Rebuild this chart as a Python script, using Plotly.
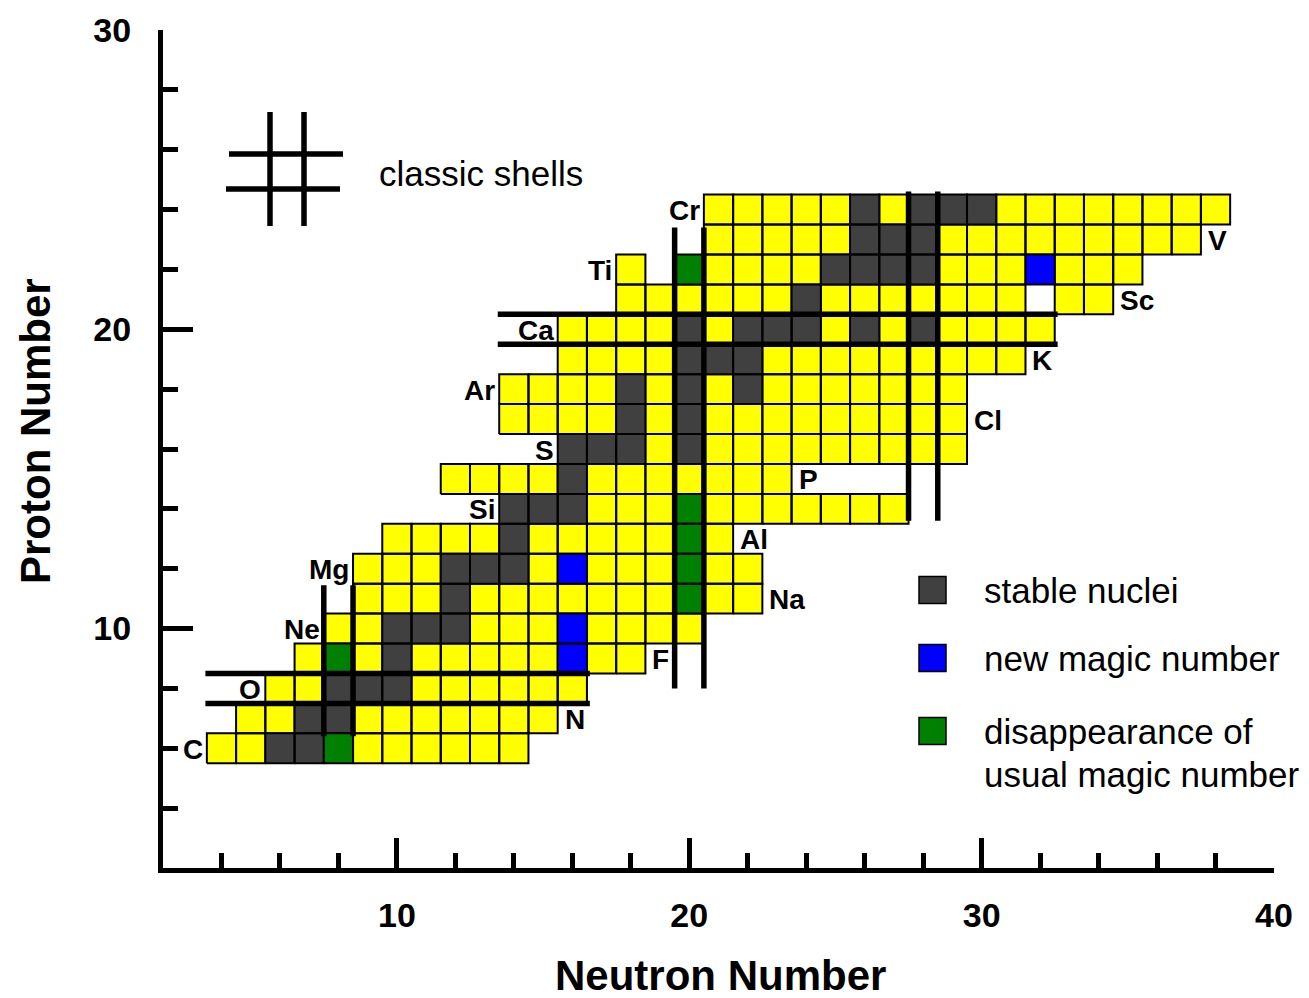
import plotly.graph_objects as go

# Chart rows: proton number, element symbol, first and last neutron number shown
proton_numbers = [6, 7, 8, 9, 10, 11, 12, 13, 14, 15, 16, 17, 18, 19, 20, 21, 22, 23, 24]
element_symbols = ["C", "N", "O", "F", "Ne", "Na", "Mg", "Al", "Si", "P",
                   "S", "Cl", "Ar", "K", "Ca", "Sc", "Ti", "V", "Cr"]
neutron_first = [4, 5, 6, 7, 8, 9, 9, 10, 14, 12, 16, 14, 14, 16, 16, 18, 18, 21, 21]
neutron_last = [14, 15, 16, 18, 20, 22, 22, 21, 27, 23, 29, 29, 29, 31, 32, 34, 35, 37, 38]

# (Z, N) of stable nuclei
stable_nuclei = [
    (6, 6), (6, 7), (7, 7), (7, 8), (8, 8), (8, 9), (8, 10), (9, 10),
    (10, 10), (10, 11), (10, 12), (11, 12), (12, 12), (12, 13), (12, 14),
    (13, 14), (14, 14), (14, 15), (14, 16), (15, 16),
    (16, 16), (16, 17), (16, 18), (16, 20), (17, 18), (17, 20),
    (18, 18), (18, 20), (18, 22), (19, 20), (19, 21), (19, 22),
    (20, 20), (20, 22), (20, 23), (20, 24), (20, 26), (20, 28),
    (21, 24), (22, 25), (22, 26), (22, 27), (22, 28),
    (23, 26), (23, 27), (23, 28), (24, 26), (24, 28), (24, 29), (24, 30),
]
# (Z, N) where a new magic number appears
new_magic = [(9, 16), (10, 16), (12, 16), (22, 32)]
# (Z, N) where a usual magic number disappears
lost_magic = [(6, 8), (9, 8), (11, 20), (12, 20), (13, 20), (14, 20), (22, 20)]
# (Z, N) left blank inside a row
blank_cells = [(21, 32), (22, 19)]

# Classic shell closures, drawn as pairs of lines around the magic row/column
magic_neutron = [8, 20, 28]
magic_neutron_zspan = [(6.4, 11.45), (8.0, 23.4), (13.6, 24.6)]
magic_proton = [8, 20]
magic_proton_nspan = [(3.45, 16.6), (13.45, 32.6)]

FONT = "Liberation Sans, Arial, sans-serif"
YELLOW, GRAY, BLUE, GREEN = "#ffff00", "#404040", "#0000ff", "#008000"

# Split every cell into its colour group
groups = {YELLOW: [], GRAY: [], BLUE: [], GREEN: []}
for z, n0, n1 in zip(proton_numbers, neutron_first, neutron_last):
    for n in range(n0, n1 + 1):
        c = (z, n)
        if c in blank_cells:
            continue
        if c in stable_nuclei:
            groups[GRAY].append(c)
        elif c in new_magic:
            groups[BLUE].append(c)
        elif c in lost_magic:
            groups[GREEN].append(c)
        else:
            groups[YELLOW].append(c)


def square_paths(cells):
    xs, ys = [], []
    for z, n in cells:
        xs += [n - 0.5, n + 0.5, n + 0.5, n - 0.5, n - 0.5, None]
        ys += [z - 0.5, z - 0.5, z + 0.5, z + 0.5, z - 0.5, None]
    return xs, ys


fig = go.Figure()
for color, cells in groups.items():
    xs, ys = square_paths(cells)
    fig.add_trace(go.Scatter(
        x=xs, y=ys, mode="lines", fill="toself", fillcolor=color,
        line=dict(color="black", width=2), hoverinfo="skip", showlegend=False))

# Shell-closure lines
for n, (z0, z1) in zip(magic_neutron, magic_neutron_zspan):
    for off in (-0.5, 0.5):
        fig.add_trace(go.Scatter(x=[n + off, n + off], y=[z0, z1], mode="lines",
                                 line=dict(color="black", width=5.5),
                                 hoverinfo="skip", showlegend=False))
for z, (n0, n1) in zip(magic_proton, magic_proton_nspan):
    for off in (-0.5, 0.5):
        fig.add_trace(go.Scatter(x=[n0, n1], y=[z + off, z + off], mode="lines",
                                 line=dict(color="black", width=5.5),
                                 hoverinfo="skip", showlegend=False))

annotations = []
# Element symbols: even Z on the left of the row, odd Z on the right
for z, sym, n0, n1 in zip(proton_numbers, element_symbols, neutron_first, neutron_last):
    if z % 2 == 0:
        annotations.append(dict(x=n0 - 0.5, y=z, text=sym, xanchor="right", xshift=-2,
                                yshift=-1, showarrow=False))
    else:
        annotations.append(dict(x=n1 + 0.5, y=z, text=sym, xanchor="left", xshift=5,
                                yshift=-1, showarrow=False))
for a in annotations:
    a.update(xref="x", yref="y", yanchor="middle",
             font=dict(family=FONT, size=28, color="black", weight="bold"))

# Plot area in pixels: x 163..1274, y 30..868
def px(x):
    return (x - 163) / 1111


def py(y):
    return (868 - y) / 838


shapes = []
# Key for the shell lines
for x in (270, 304):
    shapes.append(dict(type="line", xref="paper", yref="paper", x0=px(x), x1=px(x),
                       y0=py(112), y1=py(226), line=dict(color="black", width=5.5)))
shapes.append(dict(type="line", xref="paper", yref="paper", x0=px(229), x1=px(343),
                   y0=py(154), y1=py(154), line=dict(color="black", width=5.5)))
shapes.append(dict(type="line", xref="paper", yref="paper", x0=px(226), x1=px(340),
                   y0=py(189), y1=py(189), line=dict(color="black", width=5.5)))
# Key squares
for color, yc in ((GRAY, 590), (BLUE, 658), (GREEN, 731)):
    shapes.append(dict(type="rect", xref="paper", yref="paper", x0=px(919), x1=px(946),
                       y0=py(yc + 13.5), y1=py(yc - 13.5), fillcolor=color,
                       line=dict(color="black", width=1.5)))

key_font = dict(family=FONT, size=35, color="black")
for text, x, y in (("classic shells", 377, 173), ("stable nuclei", 982, 590),
                   ("new magic number", 982, 658), ("disappearance of", 982, 731),
                   ("usual magic number", 982, 774)):
    annotations.append(dict(xref="paper", yref="paper", x=px(x), y=py(y), text=text,
                            xanchor="left", yanchor="middle", showarrow=False,
                            font=key_font))

title_font = dict(family=FONT, size=42, color="black", weight="bold")
annotations.append(dict(xref="paper", yref="paper", x=px(720), y=py(975),
                        text="Neutron Number", showarrow=False, xanchor="center",
                        yanchor="middle", font=title_font))
annotations.append(dict(xref="paper", yref="paper", x=px(35), y=py(431),
                        text="Proton Number", showarrow=False, textangle=-90,
                        xanchor="center", yanchor="middle", font=title_font))

tick_font = dict(family=FONT, size=34, color="black", weight="bold")
axis_common = dict(showline=True, linewidth=5, linecolor="black", ticks="inside",
                   ticklen=30, tickwidth=5, tickcolor="black", dtick=10, tick0=0,
                   minor=dict(ticks="inside", ticklen=15, tickwidth=5,
                              tickcolor="black", dtick=2, tick0=0),
                   showgrid=False, zeroline=False, tickfont=tick_font)

fig.update_xaxes(range=[2, 40], ticklabelstandoff=13, **axis_common)
fig.update_yaxes(range=[2, 30], ticklabelstandoff=20, **axis_common)

fig.update_layout(
    width=1309, height=998,
    margin=dict(l=163, r=35, t=30, b=130),
    plot_bgcolor="white", paper_bgcolor="white",
    shapes=shapes, annotations=annotations,
)

fig.write_html("out.html")
